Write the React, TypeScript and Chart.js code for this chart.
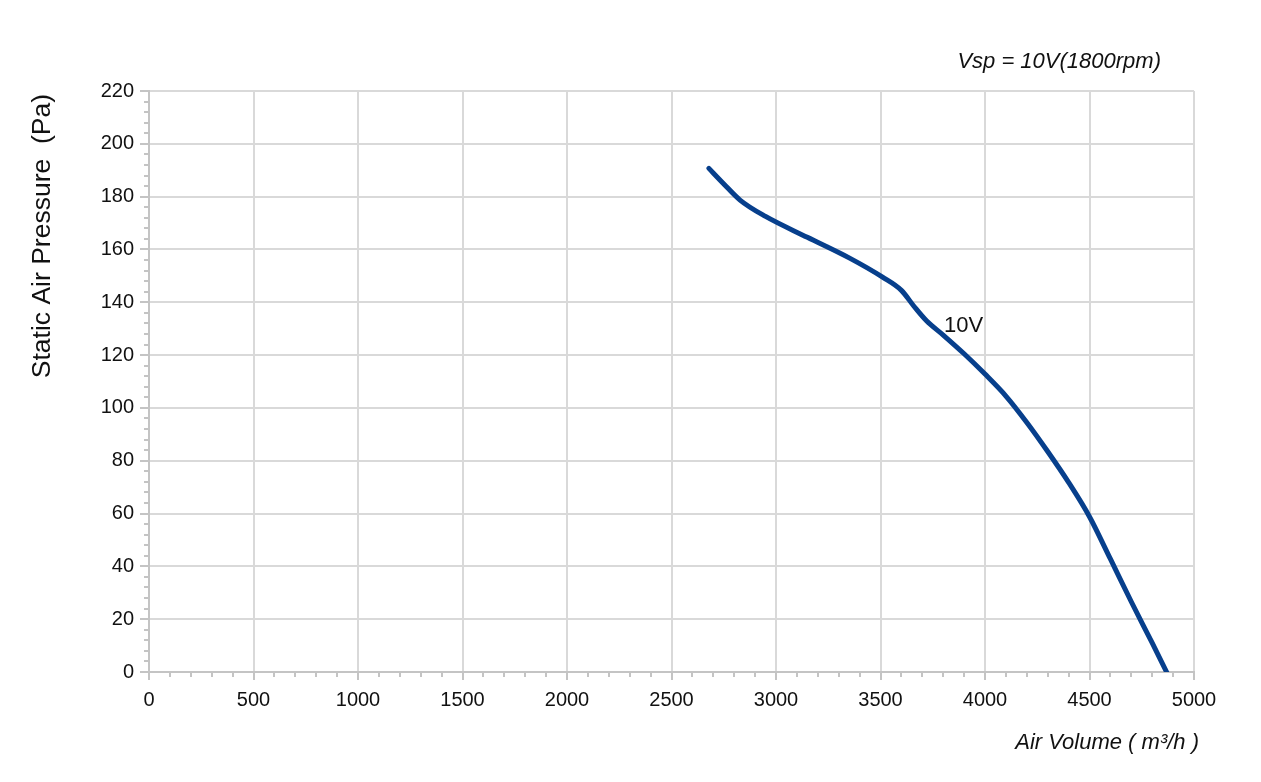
import React, { useEffect, useRef } from "react";
import { Chart, registerables } from "chart.js";

Chart.register(...registerables);

const airVolume = [2679, 2748, 2828, 2950, 3150, 3350, 3510, 3600, 3660, 3720, 3800, 3900, 4000, 4100, 4200, 4300, 4400, 4500, 4600, 4700, 4800, 4869];
const pressure = [190.7, 185, 178.7, 172.5, 164.6, 156.8, 149.5, 144.5, 138.5, 133, 127.6, 120.5, 112.8, 104.5, 94.5, 83.5, 71.8, 58.8, 42.8, 26.6, 11, 0];
const xTicks = [0, 500, 1000, 1500, 2000, 2500, 3000, 3500, 4000, 4500, 5000];
const yTicks = [0, 20, 40, 60, 80, 100, 120, 140, 160, 180, 200, 220];
const seriesLabel = "10V";
const labelAt = { x: 3804, y: 131 };
const titleText = "Vsp = 10V(1800rpm)";
const xTitle = "Air Volume ( m³/h )";
const yTitle = "Static Air Pressure  (Pa)";

const FONT = "'Liberation Sans', Arial, sans-serif";

const decorPlugin = {
  id: "decor",
  beforeDatasetsDraw(chart: any) {
    const { ctx, scales } = chart;
    const xs = scales.x;
    const ys = scales.y;
    ctx.save();
    ctx.strokeStyle = "#c4c4c4";
    ctx.lineWidth = 2;
    for (let v = 0; v <= 5000; v += 100) {
      if (v % 500 === 0) continue;
      const px = Math.round(xs.getPixelForValue(v));
      ctx.beginPath();
      ctx.moveTo(px, ys.bottom);
      ctx.lineTo(px, ys.bottom + 5);
      ctx.stroke();
    }
    for (let v = 0; v <= 220; v += 4) {
      if (v % 20 === 0) continue;
      const py = Math.round(ys.getPixelForValue(v));
      ctx.beginPath();
      ctx.moveTo(xs.left, py);
      ctx.lineTo(xs.left - 5, py);
      ctx.stroke();
    }
    ctx.restore();
  },
  afterDraw(chart: any) {
    const { ctx, scales } = chart;
    const xs = scales.x;
    const ys = scales.y;
    ctx.save();
    ctx.fillStyle = "#111";
    ctx.font = `22px ${FONT}`;
    ctx.textAlign = "left";
    ctx.textBaseline = "middle";
    ctx.fillText(seriesLabel, xs.getPixelForValue(labelAt.x), ys.getPixelForValue(labelAt.y));

    ctx.font = `italic 22px ${FONT}`;
    ctx.textAlign = "right";
    ctx.fillText(titleText, 1161, 62);
    ctx.fillText(xTitle, 1199, 743);

    ctx.font = `26.5px ${FONT}`;
    ctx.translate(43, 94);
    ctx.rotate(-Math.PI / 2);
    ctx.textAlign = "right";
    ctx.fillText(yTitle, 0, 0);
    ctx.restore();
  },
};

export default function App() {
  const ref = useRef<HTMLCanvasElement | null>(null);
  useEffect(() => {
    if (!ref.current) return;
    const data = airVolume.map((x, i) => ({ x, y: pressure[i] }));
    const chart = new Chart(ref.current, {
      type: "scatter",
      data: {
        datasets: [
          {
            label: seriesLabel,
            data,
            showLine: true,
            borderColor: "#073f8c",
            backgroundColor: "#073f8c",
            borderWidth: 5,
            pointRadius: 0,
            cubicInterpolationMode: "monotone",
            borderCapStyle: "round",
            borderJoinStyle: "round",
          } as any,
        ],
      },
      options: {
        animation: false,
        responsive: false,
        maintainAspectRatio: false,
        layout: { padding: { left: 0, right: 67, top: 91, bottom: 0 } },
        plugins: { legend: { display: false }, tooltip: { enabled: false }, title: { display: false } },
        scales: {
          x: {
            type: "linear",
            min: 0,
            max: 5000,
            afterBuildTicks: (s: any) => {
              s.ticks = xTicks.map((v) => ({ value: v }));
            },
            afterFit: (s: any) => {
              s.height = 110;
            },
            ticks: {
              color: "#111",
              font: { family: FONT, size: 20 },
              padding: 8,
              maxRotation: 0,
              autoSkip: false,
              callback: (v: any) => String(v),
            },
            grid: { color: "#d9d9d9", lineWidth: 2, tickLength: 8, tickColor: "#c4c4c4" },
            border: { color: "#c4c4c4", width: 2 },
          },
          y: {
            type: "linear",
            min: 0,
            max: 220,
            afterBuildTicks: (s: any) => {
              s.ticks = yTicks.map((v) => ({ value: v }));
            },
            afterFit: (s: any) => {
              s.width = 149;
            },
            ticks: {
              color: "#111",
              font: { family: FONT, size: 20 },
              padding: 6,
              autoSkip: false,
              callback: (v: any) => String(v),
            },
            grid: { color: "#d9d9d9", lineWidth: 2, tickLength: 9, tickColor: "#c4c4c4" },
            border: { color: "#c4c4c4", width: 2 },
          },
        },
      },
      plugins: [decorPlugin],
    });
    return () => chart.destroy();
  }, []);
  return (
    <div style={{ position: "fixed", left: 0, top: 0, width: 1261, height: 782, background: "#fff" }}>
      <canvas ref={ref} width={1261} height={782} style={{ width: 1261, height: 782, display: "block" }} />
    </div>
  );
}
